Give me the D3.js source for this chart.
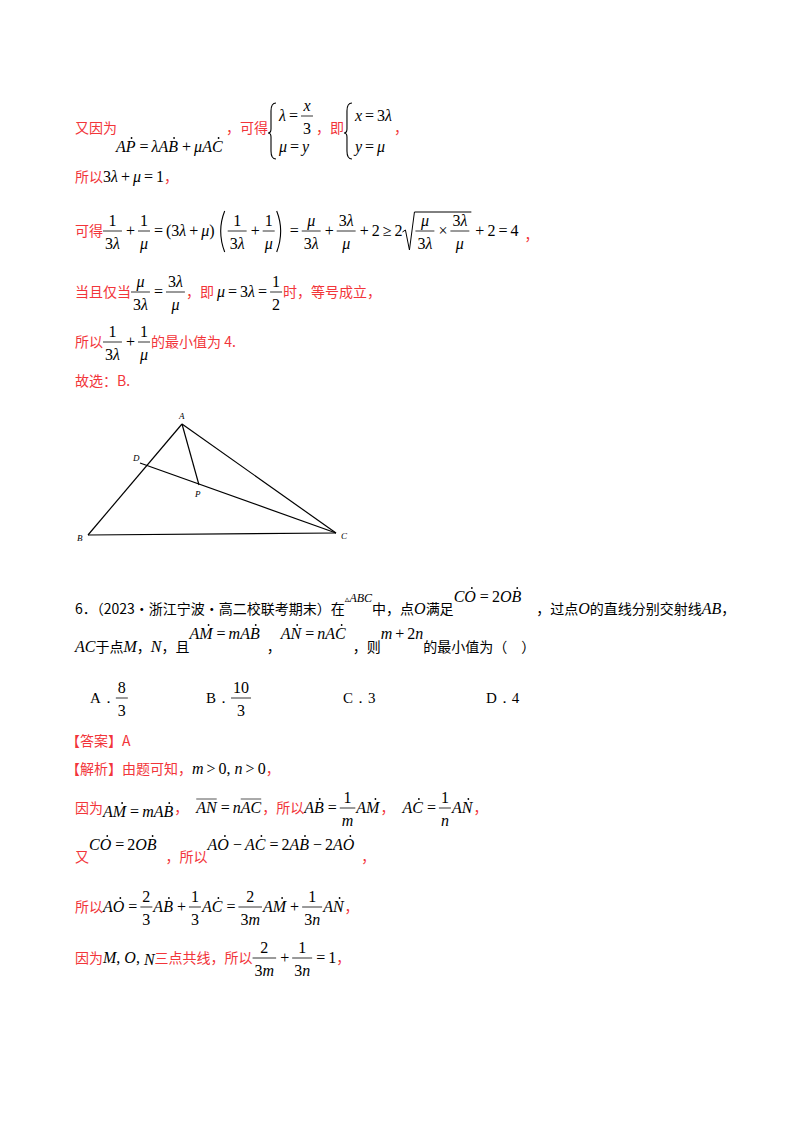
<!DOCTYPE html><html><head><meta charset="utf-8">
<script src="https://cdn.jsdelivr.net/npm/d3@7"></script>
<style>body{margin:0;background:#fff} text{white-space:pre}</style></head><body>
<svg id="s" width="800" height="1132"></svg>
<script>
const RED="#f2353a", BLK="#000";
const CJK="'Noto Sans CJK SC',sans-serif", SER="'Liberation Serif','DejaVu Serif',serif";
const svg=d3.select("#s");
// triangle figure data (in figure units)
const triPoints=[{n:"A",x:94,y:111},{n:"B",x:0,y:0},{n:"C",x:248,y:2},{n:"D",x:52,y:72},{n:"P",x:111,y:50}];
const triSegments=[["A","B"],["B","C"],["C","A"],["D","C"],["A","P"]];
const xs=d3.scaleLinear().domain([0,248]).range([88,336]);
const ys=d3.scaleLinear().domain([0,111]).range([535,424]);
// text lines
const lines=[
 {y:133,t:[{at:75},{c:"又因为"}]},
 {y:152,t:[{at:116},{v:"AP"},{n:"="},{m:"λ"},{v:"AB"},{n:"+"},{m:"μ"},{v:"AC"}]},
 {y:133,t:[{at:226},{c:"，可得"},{brace:[[{m:"λ"},{n:"="},{f:[[{m:"x"}],[{n:"3"}]]}],[{m:"μ"},{n:"="},{m:"y"}]]},{c:"，即"},{brace:[[{m:"x"},{n:"="},{n:"3"},{m:"λ"}],[{m:"y"},{n:"="},{m:"μ"}]]},{c:"，"}]},
 {y:182,t:[{at:75},{c:"所以"},{n:"3"},{m:"λ"},{n:"+"},{m:"μ"},{n:"="},{n:"1"},{c:"，"}]},
 {y:236,t:[{at:75},{c:"可得"},{f:[[{n:"1"}],[{n:"3"},{m:"λ"}]]},{n:"+"},{f:[[{n:"1"}],[{m:"μ"}]]},{n:"="},{n:"(3"},{m:"λ"},{n:"+"},{m:"μ"},{n:")"},{gap:2},{bp:"("},{f:[[{n:"1"}],[{n:"3"},{m:"λ"}]]},{n:"+"},{f:[[{n:"1"}],[{m:"μ"}]]},{bp:")"},{n:"="},{f:[[{m:"μ"}],[{n:"3"},{m:"λ"}]]},{n:"+"},{f:[[{n:"3"},{m:"λ"}],[{m:"μ"}]]},{n:"+"},{n:"2"},{n:"≥"},{n:"2"},{sqrt:[{f:[[{m:"μ"}],[{n:"3"},{m:"λ"}]]},{n:"×"},{f:[[{n:"3"},{m:"λ"}],[{m:"μ"}]]}]},{n:"+"},{n:"2"},{n:"="},{n:"4"},{gap:6},{c:"，",dy:4}]},
 {y:297,t:[{at:75},{c:"当且仅当"},{f:[[{m:"μ"}],[{n:"3"},{m:"λ"}]]},{n:"="},{f:[[{n:"3"},{m:"λ"}],[{m:"μ"}]]},{c:"，即 "},{m:"μ"},{n:"="},{n:"3"},{m:"λ"},{n:"="},{f:[[{n:"1"}],[{n:"2"}]]},{c:"时，等号成立，"}]},
 {y:347,t:[{at:75},{c:"所以"},{f:[[{n:"1"}],[{n:"3"},{m:"λ"}]]},{n:"+"},{f:[[{n:"1"}],[{m:"μ"}]]},{c:"的最小值为 4."}]},
 {y:386,t:[{at:75},{c:"故选：B."}]},
 {y:614,t:[{at:75},{k:"6．（2023·浙江宁波·高二校联考期末）在"},{n:"▵",s:9,dy:-12},{m:"ABC",s:12,dy:-12},{k:"中，点"},{m:"O"},{k:"满足"},{v:"CO",dy:-12},{n:"=",dy:-12},{n:"2",dy:-12},{v:"OB",dy:-12},{gap:14},{k:"，过点"},{m:"O"},{k:"的直线分别交射线"},{m:"AB"},{k:"，"}]},
 {y:652,t:[{at:75},{m:"AC"},{k:"于点"},{m:"M"},{k:"，"},{m:"N"},{k:"，且"},{v:"AM",dy:-13},{n:"=",dy:-13},{m:"m",dy:-13},{v:"AB",dy:-13},{gap:6},{k:"，"},{v:"AN",dy:-13},{n:"=",dy:-13},{m:"n",dy:-13},{v:"AC",dy:-13},{gap:6},{k:"，则"},{m:"m",dy:-13},{n:"+",dy:-13},{n:"2",dy:-13},{m:"n",dy:-13},{k:"的最小值为（　）"}]},
 {y:703,t:[{at:90},{r:"A．"},{f:[[{n:"8"}],[{n:"3"}]]}]},
 {y:703,t:[{at:206},{r:"B．"},{f:[[{n:"10"}],[{n:"3"}]]}]},
 {y:703,t:[{at:343},{r:"C．3"}]},
 {y:703,t:[{at:486},{r:"D．4"}]},
 {y:746,t:[{at:66},{c:"【答案】A"}]},
 {y:774,t:[{at:66},{c:"【解析】由题可知，"},{m:"m"},{n:">"},{n:"0, "},{m:"n"},{n:">"},{n:"0"},{c:"，"}]},
 {y:813,t:[{at:75},{c:"因为"},{v:"AM",dy:4},{n:"=",dy:4},{m:"m",dy:4},{v:"AB",dy:4},{c:"，"},{gap:8},{v:"AN",bar:1},{n:"="},{m:"n"},{v:"AC",bar:1},{c:"，所以"},{v:"AB"},{n:"="},{f:[[{n:"1"}],[{m:"m"}]]},{v:"AM"},{c:"，"},{gap:8},{v:"AC"},{n:"="},{f:[[{n:"1"}],[{m:"n"}]]},{v:"AN"},{c:"，"}]},
 {y:862,t:[{at:75},{c:"又"},{v:"CO",dy:-12},{n:"=",dy:-12},{n:"2",dy:-12},{v:"OB",dy:-12},{gap:8},{c:"，所以"},{v:"AO",dy:-12},{n:"−",dy:-12},{v:"AC",dy:-12},{n:"=",dy:-12},{n:"2",dy:-12},{v:"AB",dy:-12},{n:"−",dy:-12},{n:"2",dy:-12},{v:"AO",dy:-12},{gap:6},{c:"，"}]},
 {y:912,t:[{at:75},{c:"所以"},{v:"AO"},{n:"="},{f:[[{n:"2"}],[{n:"3"}]]},{v:"AB"},{n:"+"},{f:[[{n:"1"}],[{n:"3"}]]},{v:"AC"},{n:"="},{f:[[{n:"2"}],[{n:"3"},{m:"m"}]]},{v:"AM"},{n:"+"},{f:[[{n:"1"}],[{n:"3"},{m:"n"}]]},{v:"AN"},{c:"，"}]},
 {y:963,t:[{at:75},{c:"因为"},{m:"M"},{n:", "},{m:"O"},{n:", "},{m:"N",dy:2},{c:"三点共线，所以"},{f:[[{n:"2"}],[{n:"3"},{m:"m"}]]},{n:"+"},{f:[[{n:"1"}],[{n:"3"},{m:"n"}]]},{n:"="},{n:"1"},{c:"，"}]}
];
const OPS=new Set(["=","+","−","≥",">","×"]);
function txt(g,x,y,s,o){
  const e=g.append("text").attr("x",x).attr("y",y).text(s).attr("font-size",o.size||15)
   .attr("font-family",o.fam).attr("fill",o.fill).attr("font-style",o.it?"italic":"normal");
  return e.node().getComputedTextLength();
}
function render(g,x,y,toks){
  const x0=x;
  for(const t of toks){
    const yy=y+(t.dy||0), sz=t.s;
    if(t.at!==undefined){x=t.at;continue;}
    if(t.gap){x+=t.gap;continue;}
    if(t.c!==undefined){x+=txt(g,x,yy,t.c,{fam:CJK,fill:RED,size:14});}
    else if(t.k!==undefined){x+=txt(g,x,yy,t.k,{fam:CJK,fill:BLK,size:14});}
    else if(t.r!==undefined){x+=txt(g,x,yy,t.r,{fam:SER,fill:BLK,size:15});}
    else if(t.m!==undefined){x+=txt(g,x,yy,t.m,{fam:SER,fill:BLK,it:1,size:sz||16});}
    else if(t.n!==undefined){
      const pad=OPS.has(t.n)?3:0;
      x+=pad; x+=txt(g,x,yy,t.n,{fam:SER,fill:BLK,size:sz||16})+pad;}
    else if(t.v!==undefined){
      const w=txt(g,x,yy,t.v,{fam:SER,fill:BLK,it:1,size:16});
      if(t.bar) g.append("line").attr("x1",x).attr("x2",x+w).attr("y1",yy-14).attr("y2",yy-14).attr("stroke","#555");
      else g.append("circle").attr("cx",x+w-4).attr("cy",yy-14).attr("r",0.9).attr("fill",BLK);
      x+=w+1;
    }
    else if(t.f){
      const tg=g.append("g");
      const wn=render(tg.append("g"),0,0,t.f[0]), wd=render(tg.append("g"),0,0,t.f[1]);
      tg.remove();
      const w=Math.max(wn,wd)+4;
      render(g,x+(w-wn)/2,yy-10,t.f[0]);
      render(g,x+(w-wd)/2,yy+13,t.f[1]);
      g.append("line").attr("x1",x).attr("x2",x+w).attr("y1",yy-5).attr("y2",yy-5).attr("stroke",BLK).attr("stroke-width",0.8);
      x+=w+1;
    }
    else if(t.bp){
      const l=t.bp==="(";
      g.append("path").attr("d",l?`M${x+8},${yy-25} Q${x},${yy-5} ${x+8},${yy+16}`:`M${x+1},${yy-25} Q${x+9},${yy-5} ${x+1},${yy+16}`)
       .attr("fill","none").attr("stroke",BLK).attr("stroke-width",1.1);
      x+=11;
    }
    else if(t.sqrt){
      const tg=g.append("g"); const w=render(tg,0,0,t.sqrt); tg.remove();
      g.append("path").attr("d",`M${x},${yy-4} L${x+3},${yy-6} L${x+7},${yy+14} L${x+12},${yy-24} L${x+14+w},${yy-24}`)
       .attr("fill","none").attr("stroke",BLK).attr("stroke-width",1);
      x=x+13; x+=render(g,x,yy,t.sqrt)+2;
    }
    else if(t.brace){
      g.append("path").attr("d",`M${x+8},${yy-30} Q${x+3},${yy-30} ${x+3},${yy-22} L${x+3},${yy-4} Q${x+3},${yy} ${x},${yy} Q${x+3},${yy} ${x+3},${yy+4} L${x+3},${yy+18} Q${x+3},${yy+26} ${x+8},${yy+26}`)
       .attr("fill","none").attr("stroke",BLK).attr("stroke-width",1.1);
      const w1=render(g,x+11,yy-12,t.brace[0]), w2=render(g,x+11,yy+19,t.brace[1]);
      x+=11+Math.max(w1,w2)+2;
    }
  }
  return x-x0;
}
const g=svg.append("g");
lines.forEach(l=>render(g,0,l.y,l.t));
const P=Object.fromEntries(triPoints.map(p=>[p.n,p]));
svg.append("g").selectAll("line").data(triSegments).join("line")
 .attr("x1",d=>xs(P[d[0]].x)).attr("y1",d=>ys(P[d[0]].y)).attr("x2",d=>xs(P[d[1]].x)).attr("y2",d=>ys(P[d[1]].y))
 .attr("stroke",BLK).attr("stroke-width",1.2);
const lab={A:[-3,-5],B:[-11,6],C:[5,6],D:[-7,-2],P:[-4,12]};
svg.append("g").selectAll("text").data(triPoints).join("text")
 .attr("x",d=>xs(d.x)+lab[d.n][0]).attr("y",d=>ys(d.y)+lab[d.n][1]).text(d=>d.n)
 .attr("font-family",SER).attr("font-style","italic").attr("font-size",9);
</script></body></html>
